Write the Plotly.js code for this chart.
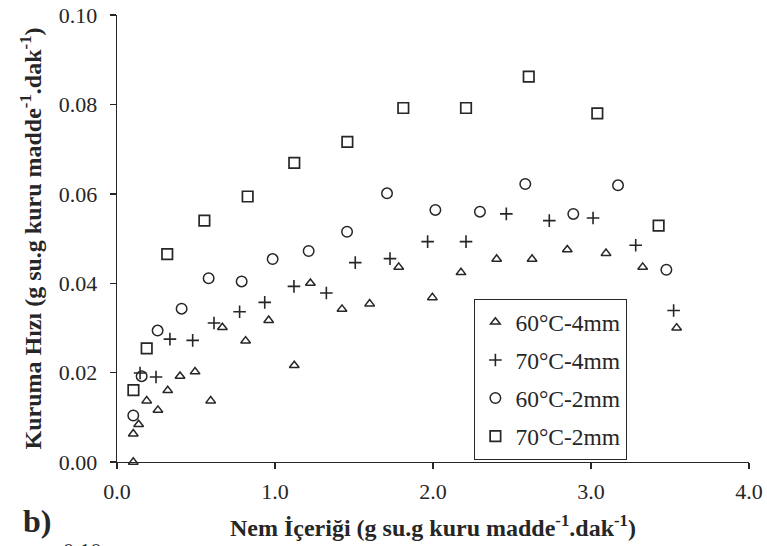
<!DOCTYPE html>
<html>
<head>
<meta charset="utf-8">
<script src="https://cdn.plot.ly/plotly-3.0.1.min.js"></script>
<style>
html,body{margin:0;padding:0;background:#fff;}
#chart{width:767px;height:546px;}
</style>
</head>
<body>
<div id="chart"></div>
<script>
// 60°C-4mm (triangles)
const x60_4 = [0.103,0.103,0.137,0.188,0.259,0.321,0.399,0.494,0.593,0.667,0.814,0.960,1.122,1.224,1.424,1.599,1.783,1.996,2.177,2.403,2.627,2.850,3.095,3.327,3.542];
const y60_4 = [0.0000,0.0063,0.0084,0.0137,0.0116,0.0160,0.0192,0.0202,0.0137,0.0301,0.0271,0.0317,0.0216,0.0400,0.0342,0.0354,0.0436,0.0368,0.0424,0.0454,0.0454,0.0475,0.0467,0.0436,0.0300];
// 70°C-4mm (plus)
const x70_4 = [0.146,0.247,0.335,0.479,0.614,0.776,0.935,1.120,1.325,1.508,1.728,1.966,2.209,2.464,2.736,3.013,3.283,3.523];
const y70_4 = [0.0199,0.0190,0.0275,0.0272,0.0311,0.0336,0.0357,0.0393,0.0378,0.0446,0.0455,0.0493,0.0493,0.0555,0.0540,0.0546,0.0485,0.0339];
// 60°C-2mm (circles)
const x60_2 = [0.103,0.156,0.257,0.409,0.580,0.789,0.985,1.213,1.456,1.709,2.015,2.297,2.584,2.888,3.171,3.477];
const y60_2 = [0.0104,0.0192,0.0294,0.0343,0.0411,0.0404,0.0454,0.0472,0.0515,0.0601,0.0564,0.0560,0.0622,0.0555,0.0619,0.0430];
// 70°C-2mm (squares)
const x70_2 = [0.104,0.188,0.318,0.553,0.827,1.122,1.458,1.812,2.209,2.606,3.040,3.428];
const y70_2 = [0.0161,0.0254,0.0465,0.0540,0.0594,0.0669,0.0716,0.0792,0.0792,0.0862,0.0780,0.0529];

const seriesNames = ['60°C-4mm','70°C-4mm','60°C-2mm','70°C-2mm'];
const xTickVals = [0,1,2,3,4];
const yTickVals = [0,0.02,0.04,0.06,0.08,0.10];

const ink = '#262626';
function tr(x, y, name, symbol, size, group, lw) {
  return {
    type: 'scatter', mode: 'markers', x: x, y: y, name: name,
    legendgroup: group, cliponaxis: false,
    marker: {symbol: symbol, size: size, color: ink, line: {color: ink, width: lw}}
  };
}
const data = [
  tr(x60_4, y60_4, seriesNames[0], 'triangle-up-open', 8.5, 'a', 1.5),
  tr(x70_4, y70_4, seriesNames[1], 'cross-thin-open', 9, 'b', 1.6),
  tr(x60_2, y60_2, seriesNames[2], 'circle-open', 10.5, 'c', 1.5),
  tr(x70_2, y70_2, seriesNames[3], 'square-open', 10.5, 'd', 1.7)
];

const serif = "'Liberation Serif', serif";
const layout = {
  width: 767, height: 546,
  margin: {l: 117, r: 18, t: 15, b: 83.5},
  paper_bgcolor: '#fff', plot_bgcolor: '#fff',
  font: {family: serif, color: ink, size: 22},
  showlegend: true,
  legend: {
    x: 0.565, y: 0.365, xanchor: 'left', yanchor: 'top',
    bordercolor: ink, borderwidth: 1.3, bgcolor: '#fff',
    font: {family: serif, size: 23.5, color: ink},
    tracegroupgap: 4.5, itemwidth: 30
  },
  xaxis: {
    range: [0, 4], tickvals: xTickVals, tickformat: '.1f',
    showgrid: false, zeroline: false, showline: true,
    linecolor: ink, linewidth: 1.4, ticks: 'outside', ticklen: 6, tickwidth: 1.4, tickcolor: ink,
    tickfont: {family: serif, size: 22, color: ink}, ticklabelstandoff: 3,
    title: {text: '<b>Nem İçeriği (g su.g kuru madde<sup>-1</sup>.dak<sup>-1</sup>)</b>',
            font: {family: serif, size: 24, color: ink}, standoff: 16}
  },
  yaxis: {
    range: [0, 0.10], tickvals: yTickVals, tickformat: '.2f',
    showgrid: false, zeroline: false, showline: true,
    linecolor: ink, linewidth: 1.4, ticks: 'outside', ticklen: 6, tickwidth: 1.4, tickcolor: ink,
    tickfont: {family: serif, size: 22, color: ink}, ticklabelstandoff: 8,
    title: {text: '<b>Kuruma Hızı (g su.g kuru madde<sup>-1</sup>.dak<sup>-1</sup>)</b>',
            font: {family: serif, size: 24, color: ink}, standoff: 10}
  },
  annotations: [
    {text: '<b>b)</b>', xref: 'paper', yref: 'paper', x: -0.127, y: -0.133,
     xanchor: 'center', yanchor: 'middle', showarrow: false,
     font: {family: serif, size: 32, color: ink}},
    {text: '0.10', xref: 'paper', yref: 'paper', x: -0.055, y: -0.1665,
     xanchor: 'center', yanchor: 'top', showarrow: false,
     font: {family: serif, size: 22, color: ink}}
  ]
};
Plotly.newPlot('chart', data, layout, {displayModeBar: false, staticPlot: true});
</script>
</body>
</html>
